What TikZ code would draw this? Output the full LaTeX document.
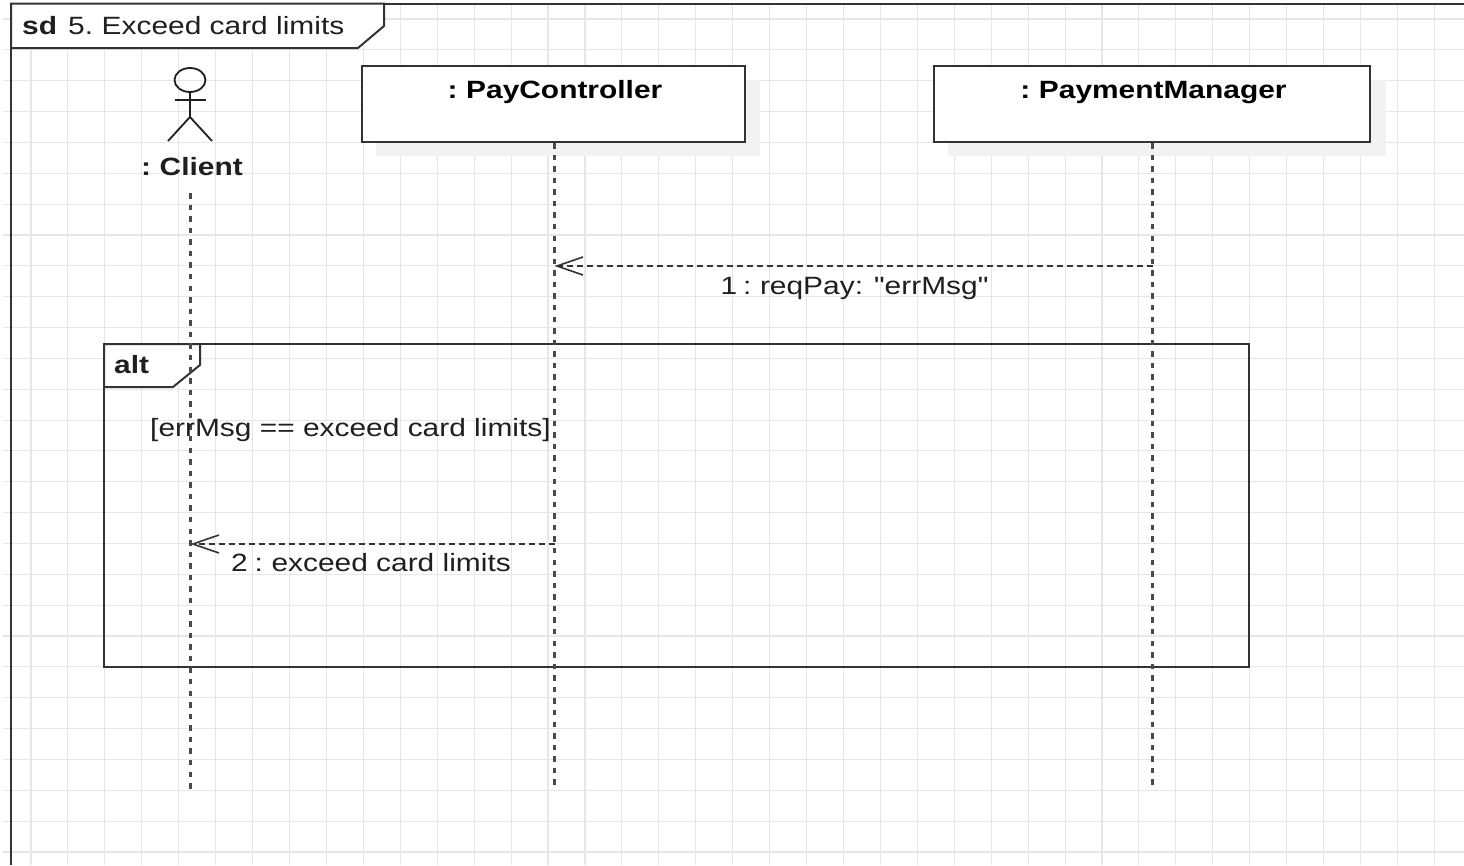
\documentclass[tikz,border=0pt]{standalone}
\usepackage{fontspec}
\setmainfont[FakeStretch=1.196]{Liberation Sans}
\newfontfamily\plainq[FakeStretch=1.196]{Liberation Sans}
\usetikzlibrary{arrows.meta,shapes.geometric}
\definecolor{gridc}{HTML}{E6E6E6}
\definecolor{shadowc}{HTML}{F2F2F2}
\definecolor{linec}{HTML}{333333}
\definecolor{lifec}{HTML}{4A4A4A}
\newcommand{\tightsp}{\kern-2.5pt\relax}
\tikzset{
  x=1pt,y=-1pt,
  gridline/.style={gridc,line width=1.1pt},
  framec/.style={draw=linec,line width=2pt,line join=miter},
  tabc/.style={framec,fill=white},
  lifeline/.style={draw=lifec,line width=2.6pt,dash pattern=on 5.5pt off 6.07pt},
  msgline/.style={draw=linec,line width=1.8pt,dash pattern=on 6pt off 4pt,
    -{Straight Barb[length=26pt,width=18pt,line width=1.6pt]}},
  boxnode/.style={draw=linec,line width=2.2pt,fill=white,inner sep=0pt,outer sep=0pt,
    font=\fontsize{25}{30}\selectfont\bfseries,text height=32pt,text depth=44pt},
  labeltext/.style={anchor=base west,inner sep=0pt,font=\fontsize{25}{30}\selectfont,text=black!88},
  boldtext/.style={labeltext,font=\fontsize{25}{30}\selectfont\bfseries},
  actorline/.style={draw=black!88,line width=1.8pt},
  shadowbox/.style={fill=shadowc,draw=none}
}
\begin{document}
\begin{tikzpicture}
\useasboundingbox (0,0) rectangle (1464,865);
\fill[white] (0,0) rectangle (1464,865);
% grid
\foreach \k in {0,...,38}{\draw[gridline] ({31+36.93*\k},5) -- ({31+36.93*\k},865);}
\foreach \k in {0,...,27}{\draw[gridline] (3,{19+30.85*\k}) -- (1464,{19+30.85*\k});}
% outer frame
\draw[framec] (1464,3.5) -- (11,3.5) -- (11,865);
\draw[tabc] (11,3.5) -- (384,3.5) -- (384,26) -- (358,48) -- (11,48) -- cycle;
\node[boldtext] (sdkw) at (22,34) {sd};
\node[labeltext] (sdname) at (68,34) {5.\tightsp{} Exceed card limits};
% shadows
\fill[shadowbox] (745,80) rectangle (760,156);
\fill[shadowbox] (376,142) rectangle (760,156);
\fill[shadowbox] (1370,80) rectangle (1386,156);
\fill[shadowbox] (948,142) rectangle (1386,156);
% heads
\node[boxnode,minimum width=383pt] (pc) at (553.5,104) {\kern3pt:\tightsp{} PayController};
\node[boxnode,minimum width=436pt] (pm) at (1152,104) {\kern3pt:\tightsp{} PaymentManager};
% actor
\node[draw=black!88,line width=1.8pt,ellipse,minimum width=31pt,minimum height=24pt,inner sep=0pt] (head) at (190,80) {};
\coordinate (hip) at (190,117);
\coordinate (armL) at (175,100);
\coordinate (armR) at (206,100);
\coordinate (legL) at (168,141);
\coordinate (legR) at (212,141);
\draw[actorline] (head.south) -- (hip);
\draw[actorline] (armL) -- (armR);
\draw[actorline] (legL) -- (hip) -- (legR);
\node[boldtext] (client) at (141,175) {:\tightsp{} Client};
% alt frame
\node[draw=linec,line width=2pt,minimum width=1145pt,minimum height=323pt,inner sep=0pt] (alt) at (676.5,505.5) {};
\draw[tabc] (104,344) -- (200,344) -- (200,365) -- (173,387) -- (104,387) -- cycle;
\node[boldtext] (altkw) at (114,373) {alt};
% lifelines
\coordinate (cTop) at (190.5,193);
\coordinate (cEnd) at (190.5,789);
\coordinate (pcEnd) at (554.5,787);
\coordinate (pmEnd) at (1152.5,787);
\coordinate (pmTop) at (1152.5,143);
\coordinate (pcTop) at (554.5,143);
\draw[lifeline] (cTop) -- (cEnd);
\draw[lifeline] (pcTop) -- (pcEnd);
\draw[lifeline] (pmTop) -- (pmEnd);
% messages
\coordinate (m1s) at (1152.5,266);
\coordinate (m1e) at (554.5,266);
\coordinate (m2s) at (554.5,544);
\coordinate (m2e) at (190.5,544);
\draw[msgline] (m1s) -- (m1e);
\draw[msgline] (m2s) -- (m2e);
\node[labeltext] (m1l) at (720.5,294) {\plainq 1\tightsp{} :\tightsp{} reqPay: "errMsg"};
\node[labeltext] (guard) at (150,436) {[errMsg == exceed card limits]};
\node[labeltext] (m2l) at (231,571) {2\kern-1.5pt{} :\tightsp{} exceed card limits};
\end{tikzpicture}
\end{document}
